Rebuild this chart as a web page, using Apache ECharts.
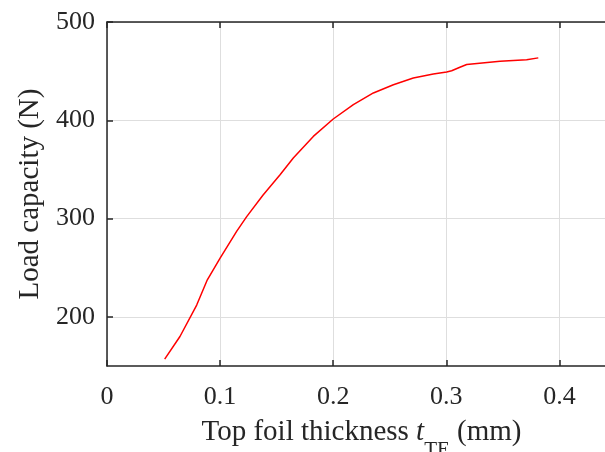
<!DOCTYPE html>
<html>
<head>
<meta charset="utf-8">
<script src="https://cdn.jsdelivr.net/npm/echarts@6/dist/echarts.min.js"></script>
<style>
  html, body { margin: 0; padding: 0; background: #ffffff; }
  #chart { width: 605px; height: 452px; }
</style>
</head>
<body>
<div id="chart"></div>
<script>
// Top foil thickness (mm) against load capacity (N)
const thickness = [0.051, 0.0645, 0.0793, 0.0887, 0.100, 0.1146, 0.1235, 0.138, 0.153, 0.1647,
  0.1824, 0.200, 0.2178, 0.2355, 0.2532, 0.2708, 0.2885, 0.3003, 0.3047, 0.312,
  0.318, 0.3475, 0.371, 0.3813];
const loadCapacity = [157, 180, 212, 237.7, 259.8, 286.9, 302, 324, 344.5, 361.6,
  383.6, 401.3, 415.9, 427.8, 436.2, 443, 447, 449.1, 450.4, 454,
  456.7, 460, 461.7, 463.5];
const xTicks = [0, 0.1, 0.2, 0.3, 0.4];
const yTicks = [200, 300, 400, 500];

const FONT = '"Liberation Serif", "Times New Roman", serif';
const AXIS_COLOR = '#262626';
const GRID_COLOR = '#dedede';
const TEXT_COLOR = '#262626';
const FS = 26;      // tick labels
const NAME_FS = 29; // axis titles

const points = thickness.map((t, i) => [t, loadCapacity[i]]);

const chart = echarts.init(document.getElementById('chart'), null, { renderer: 'canvas' });

const xLabel = v => (xTicks.some(t => Math.abs(t - v) < 1e-9) ? (v === 0 ? '0' : v.toFixed(1)) : '');
const yLabel = v => (yTicks.indexOf(v) >= 0 ? String(v) : '');

chart.setOption({
  animation: false,
  backgroundColor: '#ffffff',
  grid: { left: 107, top: 22, bottom: 86, right: -11, containLabel: false, outerBoundsMode: 'none' },
  xAxis: [
    {
      type: 'value', min: 0, max: 0.45, interval: 0.1, position: 'bottom',
      name: '{a|Top foil thickness }{i|t}{s|TE}{a| (mm)}',
      nameLocation: 'middle', nameGap: 52,
      nameTextStyle: {
        rich: {
          a: { fontFamily: FONT, fontSize: NAME_FS, color: TEXT_COLOR, lineHeight: 32, verticalAlign: 'top' },
          i: { fontFamily: FONT, fontSize: NAME_FS, fontStyle: 'italic', color: TEXT_COLOR, lineHeight: 32, verticalAlign: 'top' },
          s: { fontFamily: FONT, fontSize: 21, color: TEXT_COLOR, lineHeight: 21, verticalAlign: 'bottom', padding: [0, 0, -11, 0] }
        }
      },
      axisLine: { show: true, onZero: false, lineStyle: { color: AXIS_COLOR, width: 1.5 } },
      axisTick: { show: true, inside: true, length: 6, lineStyle: { color: AXIS_COLOR, width: 1.5 } },
      axisLabel: { fontFamily: FONT, fontSize: FS, color: TEXT_COLOR, margin: 18, formatter: xLabel },
      splitLine: { show: true, lineStyle: { color: GRID_COLOR, width: 1 } }
    },
    {
      type: 'value', min: 0, max: 0.45, interval: 0.1, position: 'top',
      axisLine: { show: true, onZero: false, lineStyle: { color: AXIS_COLOR, width: 1.5 } },
      axisTick: { show: true, inside: true, length: 6, lineStyle: { color: AXIS_COLOR, width: 1.5 } },
      axisLabel: { show: false },
      splitLine: { show: false }
    }
  ],
  yAxis: [
    {
      type: 'value', min: 150, max: 500, interval: 50, position: 'left',
      name: 'Load capacity (N)', nameLocation: 'middle', nameGap: 62, nameRotate: 90,
      nameTextStyle: { fontFamily: FONT, fontSize: NAME_FS, color: TEXT_COLOR },
      axisLine: { show: true, onZero: false, lineStyle: { color: AXIS_COLOR, width: 1.5 } },
      axisTick: { show: true, inside: true, length: 6, lineStyle: { color: AXIS_COLOR, width: 1.5 },
        customValues: yTicks },
      axisLabel: { fontFamily: FONT, fontSize: FS, color: TEXT_COLOR, margin: 12, formatter: yLabel,
        customValues: yTicks },
      splitLine: { show: true, lineStyle: { color: GRID_COLOR, width: 1 } }
    }
  ],
  series: [
    {
      type: 'line', data: points, xAxisIndex: 0, yAxisIndex: 0,
      showSymbol: false, symbol: 'none', smooth: false,
      lineStyle: { color: '#ff0000', width: 1.5 }
    }
  ]
});
</script>
</body>
</html>
